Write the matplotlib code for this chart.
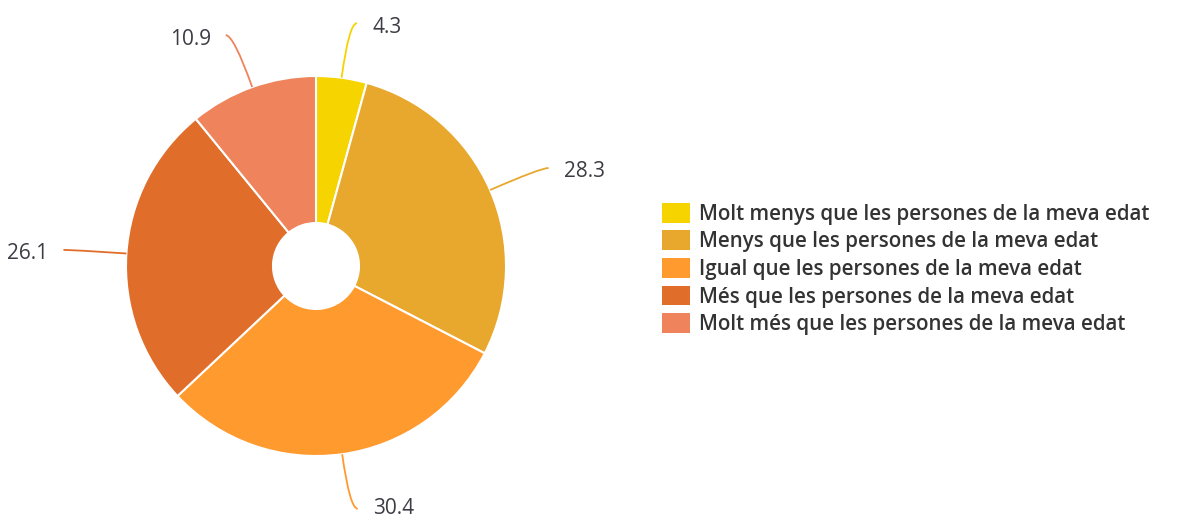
import numpy as np
import matplotlib.pyplot as plt
from matplotlib.path import Path
from matplotlib.patches import PathPatch, Patch

categories = [
    'Molt menys que les persones de la meva edat',
    'Menys que les persones de la meva edat',
    'Igual que les persones de la meva edat',
    'Més que les persones de la meva edat',
    'Molt més que les persones de la meva edat',
]
values = [4.3, 28.3, 30.4, 26.1, 10.9]
colors = ['#F5D400', '#E8A82E', '#FF9A2E', '#E06E2A', '#EE835C']

W, H = 1179, 520
fig = plt.figure(figsize=(W / 100, H / 100), dpi=100)
ax = fig.add_axes([0, 0, 1, 1])

cx, cy, R, r_in = 316, 254, 190, 43
wedges, _ = ax.pie(values, colors=colors, center=(cx, cy), radius=R,
                   startangle=90, counterclock=False,
                   wedgeprops=dict(width=R - r_in, edgecolor='white', linewidth=1.5))
ax.set_xlim(0, W)
ax.set_ylim(0, H)
ax.set_aspect('equal')
ax.axis('off')

# curved leader lines + value labels
for w, v, c in zip(wedges, values, colors):
    ang = np.deg2rad((w.theta1 + w.theta2) / 2)
    dx, dy = np.cos(ang), np.sin(ang)
    p0 = (cx + R * dx, cy + R * dy)
    p1 = (cx + 1.29 * R * dx, cy + 1.29 * R * dy)
    side = 1 if dx >= 0 else -1
    p2 = (p1[0] + side * 8, p1[1])
    path = Path([p0, p1, p2], [Path.MOVETO, Path.CURVE3, Path.CURVE3])
    ax.add_patch(PathPatch(path, fill=False, edgecolor=c, lw=1.3))
    shift = 4 if dy > 0 else 0
    ax.text(p2[0] + side * 15, p2[1] - shift, f'{v:.1f}', ha='left' if side > 0 else 'right',
            va='center', fontsize=15, color='#3c3c44', family='Open Sans')

handles = [Patch(facecolor=c, edgecolor='none') for c in colors]
fig.legend(handles, categories, loc='center left', bbox_to_anchor=(662 / W, 1 - 269 / H),
           frameon=False, prop=dict(family='Open Sans', weight='semibold', size=14.8),
           handlelength=1.35, handleheight=1.1, handletextpad=0.45, labelspacing=0.28,
           labelcolor='#333333', borderpad=0, borderaxespad=0)

fig.savefig('out.png', dpi=100)
